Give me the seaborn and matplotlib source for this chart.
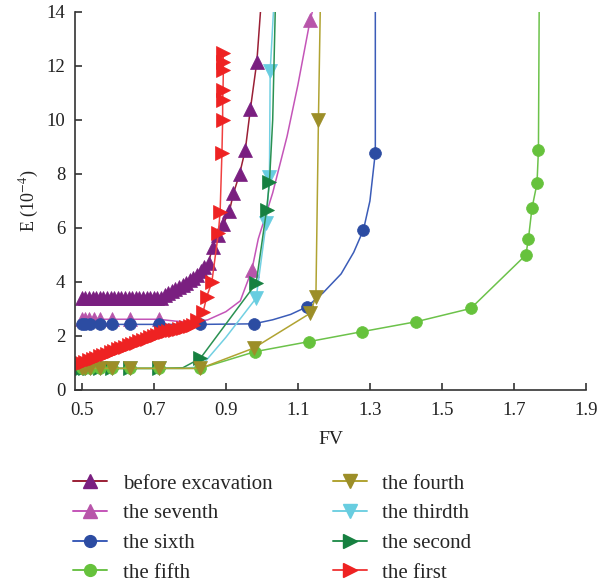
import matplotlib
matplotlib.use("Agg")
import matplotlib.pyplot as plt
from matplotlib.lines import Line2D
import seaborn as sns

sns.set_style("ticks")
plt.rcParams["font.family"] = ["Liberation Serif", "DejaVu Serif"]
plt.rcParams["mathtext.fontset"] = "stix"

labels = ["before excavation", "the seventh", "the sixth", "the fifth",
          "the fourth", "the thirdth", "the second", "the first"]

# before excavation
x_before = [0.50, 0.51, 0.52, 0.53, 0.54, 0.55, 0.56, 0.57, 0.58, 0.59, 0.60, 0.61,
            0.62, 0.63, 0.64, 0.65, 0.66, 0.67, 0.68, 0.69, 0.70, 0.71, 0.72,
            0.73, 0.74, 0.75, 0.76, 0.77, 0.78, 0.79, 0.80, 0.81, 0.82, 0.83, 0.84,
            0.852, 0.863, 0.878, 0.893, 0.91, 0.921, 0.938, 0.954, 0.968, 0.986, 0.996]
y_before = [3.4, 3.4, 3.4, 3.4, 3.4, 3.4, 3.4, 3.4, 3.4, 3.4, 3.4, 3.4,
            3.4, 3.4, 3.4, 3.4, 3.4, 3.4, 3.4, 3.4, 3.4, 3.4, 3.4,
            3.5, 3.58, 3.66, 3.74, 3.82, 3.9, 3.98, 4.06, 4.14, 4.26, 4.4, 4.55,
            4.72, 5.3, 5.75, 6.15, 6.64, 7.28, 8.0, 8.9, 10.4, 12.16, 14.0]

# the seventh
x_seventh = [0.50, 0.51, 0.52, 0.535, 0.551, 0.583, 0.634, 0.713, 0.76, 0.81, 0.85,
             0.90, 0.94, 0.972, 0.99, 1.03, 1.07, 1.10, 1.134, 1.14]
y_seventh = [2.62, 2.62, 2.62, 2.62, 2.62, 2.62, 2.62, 2.62, 2.55, 2.5, 2.6,
             2.9, 3.3, 4.44, 5.6, 7.3, 9.4, 11.3, 13.7, 14.0]

# the sixth
x_sixth = [0.50, 0.51, 0.523, 0.551, 0.583, 0.634, 0.713, 0.829, 0.977, 1.03, 1.08,
           1.125, 1.17, 1.22, 1.255, 1.282, 1.30, 1.315, 1.315]
y_sixth = [2.43, 2.43, 2.43, 2.43, 2.43, 2.43, 2.43, 2.43, 2.45, 2.6, 2.8,
           3.08, 3.6, 4.3, 5.1, 5.93, 7.0, 8.79, 14.0]

# the fifth
x_fifth = [0.50, 0.51, 0.523, 0.551, 0.583, 0.634, 0.713, 0.829, 0.981, 1.13, 1.278,
           1.429, 1.58, 1.733, 1.74, 1.75, 1.764, 1.768, 1.77]
y_fifth = [0.8, 0.8, 0.8, 0.8, 0.8, 0.8, 0.8, 0.8, 1.42, 1.79, 2.16,
           2.53, 3.02, 5.0, 5.58, 6.73, 7.65, 8.89, 14.0]

# the fourth
x_fourth = [0.50, 0.51, 0.523, 0.551, 0.583, 0.634, 0.713, 0.829, 0.977, 1.134, 1.15,
            1.157, 1.162]
y_fourth = [0.8, 0.8, 0.8, 0.8, 0.8, 0.8, 0.8, 0.8, 1.55, 2.84, 3.46,
            10.0, 14.0]

# the thirdth
x_third = [0.50, 0.51, 0.523, 0.551, 0.583, 0.634, 0.713, 0.78, 0.83, 0.90, 0.984,
           1.012, 1.021, 1.023, 1.032]
y_third = [0.8, 0.8, 0.8, 0.8, 0.8, 0.8, 0.8, 0.8, 0.86, 1.95, 3.4,
           6.2, 7.9, 11.8, 14.0]

# the second
x_second = [0.50, 0.51, 0.523, 0.551, 0.583, 0.634, 0.713, 0.78, 0.829, 0.984, 1.013,
            1.021, 1.03, 1.037]
y_second = [0.8, 0.8, 0.8, 0.8, 0.8, 0.8, 0.8, 0.82, 1.17, 3.95, 6.67,
            7.7, 10.0, 14.0]

# the first
x_first = [0.50, 0.51, 0.52, 0.53, 0.54, 0.55, 0.56, 0.57, 0.58, 0.59, 0.60, 0.61,
           0.62, 0.63, 0.64, 0.65, 0.66, 0.67, 0.68, 0.69, 0.70, 0.71, 0.72, 0.73,
           0.74, 0.75, 0.76, 0.77, 0.78, 0.79, 0.80, 0.81, 0.82, 0.837, 0.847, 0.861,
           0.879, 0.884, 0.889, 0.891, 0.891, 0.892, 0.893, 0.893, 0.892]
y_first = [1.0, 1.05, 1.1, 1.15, 1.2, 1.25, 1.3, 1.35, 1.4, 1.45, 1.5, 1.55,
           1.6, 1.65, 1.7, 1.75, 1.8, 1.85, 1.9, 1.95, 2.0, 2.05, 2.1, 2.15,
           2.18, 2.21, 2.24, 2.27, 2.3, 2.33, 2.36, 2.4, 2.6, 2.9, 3.46, 4.0,
           5.8, 6.6, 8.77, 10.0, 10.74, 11.1, 11.85, 12.16, 12.47]

# styles: (x, y, line colour, marker colour, marker, marker indices)
series = {
    "before excavation": (x_before, y_before, "#9a1f35", "#7a1f80", "^", list(range(0, 45))),
    "the seventh": (x_seventh, y_seventh, "#c455b8", "#b855aa", "^", [0, 1, 2, 3, 4, 5, 6, 7, 13, 18]),
    "the sixth": (x_sixth, y_sixth, "#3b5cb8", "#2c4ca2", "o", [0, 1, 2, 3, 4, 5, 6, 7, 8, 11, 15, 17]),
    "the fifth": (x_fifth, y_fifth, "#6cc24a", "#66c23c", "o", list(range(0, 18))),
    "the fourth": (x_fourth, y_fourth, "#b0a332", "#9c8e28", "v", list(range(0, 12))),
    "the thirdth": (x_third, y_third, "#72d0e2", "#68cde0", "v", [0, 1, 2, 3, 4, 5, 6, 10, 11, 12, 13]),
    "the second": (x_second, y_second, "#2a9152", "#168040", ">", [0, 1, 2, 3, 4, 5, 6, 8, 9, 10, 11]),
    "the first": (x_first, y_first, "#f04040", "#ee2222", ">", list(range(0, 45))),
}

fig = plt.figure(figsize=(6.01, 5.84), dpi=100)
ax = fig.add_axes([0.1248, 0.3322, 0.8502, 0.6473])

draw_order = ["before excavation", "the seventh", "the sixth", "the thirdth",
              "the second", "the fifth", "the fourth", "the first"]
for name in draw_order:
    xs, ys, lc, mc, mk, idx = series[name]
    ms = 8.5 if mk == "o" else 9.5
    sns.lineplot(x=xs, y=ys, ax=ax, sort=False, estimator=None, color=lc,
                 linewidth=1.1, marker=mk, markersize=ms, markevery=idx,
                 markerfacecolor=mc, markeredgecolor=mc, markeredgewidth=0.5)

ax.set_xlim(0.481, 1.9)
ax.set_ylim(0, 14)
ax.set_xticks([0.5, 0.7, 0.9, 1.1, 1.3, 1.5, 1.7, 1.9])
ax.set_xticklabels(["0.5", "0.7", "0.9", "1.1", "1.3", "1.5", "1.7", "1.9"])
ax.set_yticks([0, 2, 4, 6, 8, 10, 12, 14])
ax.tick_params(axis="both", direction="in", labelsize=13.5, colors="#222222",
               width=1.1, length=5)
ax.tick_params(axis="x", pad=9)
ax.tick_params(axis="y", pad=7)
for s in ["top", "right"]:
    ax.spines[s].set_visible(False)
for s in ["left", "bottom"]:
    ax.spines[s].set_color("#333333")
    ax.spines[s].set_linewidth(1.2)
ax.set_xlabel("FV", fontsize=14, color="#222222", labelpad=8)
ax.set_ylabel("E (10$^{-4}$)", fontsize=13, color="#222222", labelpad=4)

handles = []
for name in labels:
    xs, ys, lc, mc, mk, idx = series[name]
    ms = 8.5 if mk == "o" else 9.5
    handles.append(Line2D([], [], color=lc, linewidth=1.4, marker=mk, markersize=ms,
                          markerfacecolor=mc, markeredgecolor=mc))
fig.legend(handles, labels, loc="upper left", bbox_to_anchor=(0.1215, 0.188),
           ncol=2, frameon=False, fontsize=15, handlelength=1.63, handletextpad=0.75,
           columnspacing=2.9, labelspacing=0.48, borderpad=0, borderaxespad=0)

fig.savefig("out.png", dpi=100)
